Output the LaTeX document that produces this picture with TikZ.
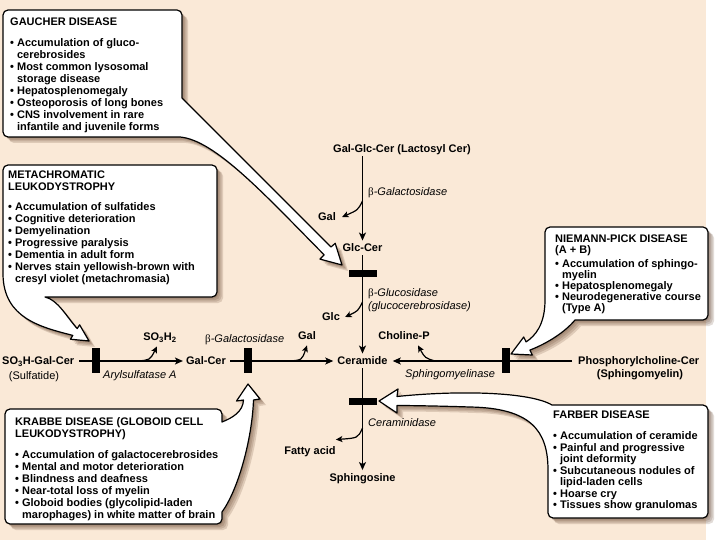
\documentclass[tikz,border=0pt]{standalone}
\usepackage{fontspec}
\setmainfont{Liberation Sans}
\newfontfamily\symf{Liberation Serif}
\usetikzlibrary{arrows.meta}
\definecolor{bg}{RGB}{250,233,215}
\definecolor{shcol}{RGB}{95,62,40}
\newcommand\bu{\textbullet\ }
\newcommand\ct{\hphantom{\textbullet\ }}
\newcommand\bet{{\upshape\symf β}}
\begin{document}
\begin{tikzpicture}[x=1pt,y=-1pt,
  callout/.style={fill=white,draw=black,line width=1.2pt,line join=round},
  shd/.style={fill=shcol,opacity=0.18},
  boxtxt/.style={anchor=north west,inner sep=0pt,align=left,font=\fontsize{11}{12}\selectfont\bfseries},
  lbl/.style={inner sep=0pt,text height=8pt,text depth=0.5pt,font=\fontsize{11}{12}\selectfont\bfseries},
  enz/.style={inner sep=0pt,anchor=west,font=\fontsize{11}{12}\selectfont\itshape},
  vbar/.style={fill=black,inner sep=0pt,minimum width=8pt,minimum height=25pt},
  hbar/.style={fill=black,inner sep=0pt,minimum width=28pt,minimum height=7pt},
  arr/.style={line width=1.4pt,-{Stealth[length=8pt,width=7pt,inset=2pt]}},
  sarr/.style={line width=1.2pt,-{Stealth[length=6.5pt,width=6pt,inset=1.5pt]}},
  gpath/.style={insert path={(182,98) -- (331,247) -- (335.2,243.3) -- (342,265) -- (320,259.1) -- (324.1,254.8) .. controls (265,195) and (215,140) .. (180,137) [rounded corners=5pt] -- (3,137) -- (3,10) -- (182,10) [sharp corners] -- cycle}},
  mpath/.style={insert path={(3,275) .. controls (4,318) and (40,327) .. (72.8,335.4) -- (70.4,339.2) -- (89,341) -- (79.6,324.8) -- (77.2,328.6) .. controls (66,316) and (58,300) .. (45,297) [rounded corners=5pt] -- (217,297) -- (217,165) -- (3,165) [sharp corners] -- cycle}},
  kpath/.style={insert path={(222,422) .. controls (232,418) and (243,412) .. (243.5,400) -- (236.5,401) -- (248,384) -- (260,399) -- (253.5,400) .. controls (252,440) and (238,490) .. (222,512) [rounded corners=5pt] -- (222,524) -- (5,524) -- (5,409) -- (222,409) [sharp corners] -- cycle}},
  npath/.style={insert path={(545,300) .. controls (545,325) and (535,336) .. (526.1,341.9) -- (523.7,337) -- (511,354) -- (532.3,355) -- (529.9,350.1) .. controls (548,343) and (565,332) .. (575,320) [rounded corners=5pt] -- (708,320) -- (708,227) -- (545,227) [sharp corners] -- cycle}},
  fpath/.style={insert path={(397,396.5) .. controls (460,390) and (530,392) .. (552,405) [rounded corners=5pt] -- (708,405) -- (708,518) -- (548,518) [sharp corners] -- (548,470) .. controls (548,430) and (530,408) .. (470,407) .. controls (440,406) and (410,405.5) .. (397,405.5) -- (397,413) -- (379,401) -- (398,389) -- cycle}}
]
\useasboundingbox (0,0) rectangle (720,540);
\fill[white] (0,0) rectangle (720,540);
\fill[bg] (0,0) rectangle (706,540);
% shadows
\foreach \s in {1.5,3,4.5,6}{
  \fill[shd,xshift=\s pt,yshift=-\s pt,gpath];
  \fill[shd,xshift=\s pt,yshift=-\s pt,mpath];
  \fill[shd,xshift=\s pt,yshift=-\s pt,kpath];
  \fill[shd,xshift=\s pt,yshift=-\s pt,npath];
  \fill[shd,xshift=\s pt,yshift=-\s pt,fpath];
}
% callouts
\path[callout,gpath];
\path[callout,mpath];
\path[callout,kpath];
\path[callout,npath];
\path[callout,fpath];
% box texts
\node[boxtxt] (gaucher) at (10,18) {GAUCHER DISEASE\\[9pt]
\bu Accumulation of gluco-\\
\ct cerebrosides\\
\bu Most common lysosomal\\
\ct storage disease\\
\bu Hepatosplenomegaly\\
\bu Osteoporosis of long bones\\
\bu CNS involvement in rare\\
\ct infantile and juvenile forms};
\node[boxtxt] (mld) at (8,171) {METACHROMATIC\\LEUKODYSTROPHY\\[8pt]
\bu Accumulation of sulfatides\\
\bu Cognitive deterioration\\
\bu Demyelination\\
\bu Progressive paralysis\\
\bu Dementia in adult form\\
\bu Nerves stain yellowish-brown with\\
\ct cresyl violet (metachromasia)};
\node[boxtxt] (krabbe) at (15,417) {KRABBE DISEASE (GLOBOID CELL\\LEUKODYSTROPHY)\\[9pt]
\bu Accumulation of galactocerebrosides\\
\bu Mental and motor deterioration\\
\bu Blindness and deafness\\
\bu Near-total loss of myelin\\
\bu Globoid bodies (glycolipid-laden\\
\ct marophages) in white matter of brain};
\node[boxtxt,font=\fontsize{11}{11}\selectfont\bfseries] (niemann) at (555,235) {NIEMANN-PICK DISEASE\\(A + B)\\[3pt]
\bu Accumulation of sphingo-\\
\ct myelin\\
\bu Hepatosplenomegaly\\
\bu Neurodegenerative course\\
\ct (Type A)};
\node[boxtxt,font=\fontsize{11}{11.5}\selectfont\bfseries] (farber) at (553,411) {FARBER DISEASE\\[9.5pt]
\bu Accumulation of ceramide\\
\bu Painful and progressive\\
\ct joint deformity\\
\bu Subcutaneous nodules of\\
\ct lipid-laden cells\\
\bu Hoarse cry\\
\bu Tissues show granulomas};
% pathway labels
\node[lbl,anchor=west] (lact) at (333,149) {Gal-Glc-Cer (Lactosyl Cer)};
\node[lbl] (glccer) at (362.5,248) {Glc-Cer};
\node[lbl] (ceramide) at (362.5,361) {Ceramide};
\node[lbl] (sphingosine) at (362.5,478) {Sphingosine};
\node[lbl,anchor=west] (sulf) at (2,361) {SO\textsubscript{3}H-Gal-Cer};
\node[lbl,font=\fontsize{11}{12}\selectfont] (sulfatide) at (34,376) {(Sulfatide)};
\node[lbl] (galcer) at (206,361) {Gal-Cer};
\node[lbl,anchor=west] (pcer) at (578,361) {Phosphorylcholine-Cer};
\node[lbl] (sm) at (640,374) {(Sphingomyelin)};
\node[lbl] (so3h2) at (160,337) {SO\textsubscript{3}H\textsubscript{2}};
\node[lbl] (gal2) at (307,336) {Gal};
\node[lbl] (cholp) at (404,336) {Choline-P};
\node[lbl] (gal1) at (327,217) {Gal};
\node[lbl] (glc) at (331,317) {Glc};
\node[lbl] (fatty) at (310,451) {Fatty acid};
% enzymes
\node[enz] (bgal1) at (368,193) {\bet-Galactosidase};
\node[enz] (bglu) at (368,294) {\bet-Glucosidase};
\node[enz] (bglu2) at (368,307) {(glucocerebrosidase)};
\node[enz] (arsa) at (103,376) {Arylsulfatase A};
\node[enz] (bgal2) at (205,340) {\bet-Galactosidase};
\node[enz] (smase) at (405,375) {Sphingomyelinase};
\node[enz] (cerase) at (368,423) {Ceraminidase};
% main arrows
\draw[arr,shorten <=3pt,shorten >=3pt] (lact.south -| glccer) -- (glccer.north);
\draw[arr,shorten <=3pt,shorten >=3pt] (glccer.south) -- (ceramide.north);
\draw[arr,shorten <=3pt,shorten >=3.5pt] (ceramide.south) -- (sphingosine.north);
\draw[arr,shorten <=5pt,shorten >=3pt] (sulf.east) -- (galcer.west);
\draw[arr,shorten <=4pt,shorten >=4pt] (galcer.east) -- (ceramide.west);
\draw[arr,shorten <=6pt,shorten >=5pt] (pcer.west) -- (ceramide.east);
% bars
\node[vbar] (bar1) at (96,360.5) {};
\node[vbar] (bar2) at (247.5,360.5) {};
\node[vbar] (bar3) at (505.5,360.5) {};
\node[hbar] (bar4) at (362.5,273) {};
\node[hbar] (bar5) at (362.5,401) {};
% side arrows
\coordinate (c1) at (138,361);
\coordinate (c2) at (290,361);
\coordinate (c3) at (435,361);
\coordinate (c4) at (362.5,201);
\coordinate (c5) at (362.5,302);
\coordinate (c6) at (362.5,428);
\draw[sarr] (c1) .. controls (150,360) .. ([shift={(-3,5)}]so3h2.south);
\draw[sarr] (c2) .. controls (302,360) .. ([shift={(0,5)}]gal2.south);
\draw[sarr] (c3) .. controls (425,358) .. ([shift={(14,5)}]cholp.south);
\draw[sarr] (c4) .. controls (358,210) .. ([shift={(6,0)}]gal1.east);
\draw[sarr] (c5) .. controls (358,311) .. ([shift={(5,0)}]glc.east);
\draw[sarr] (c6) .. controls (358,438) .. ([shift={(0,-7)}]fatty.north east);
\end{tikzpicture}
\end{document}
